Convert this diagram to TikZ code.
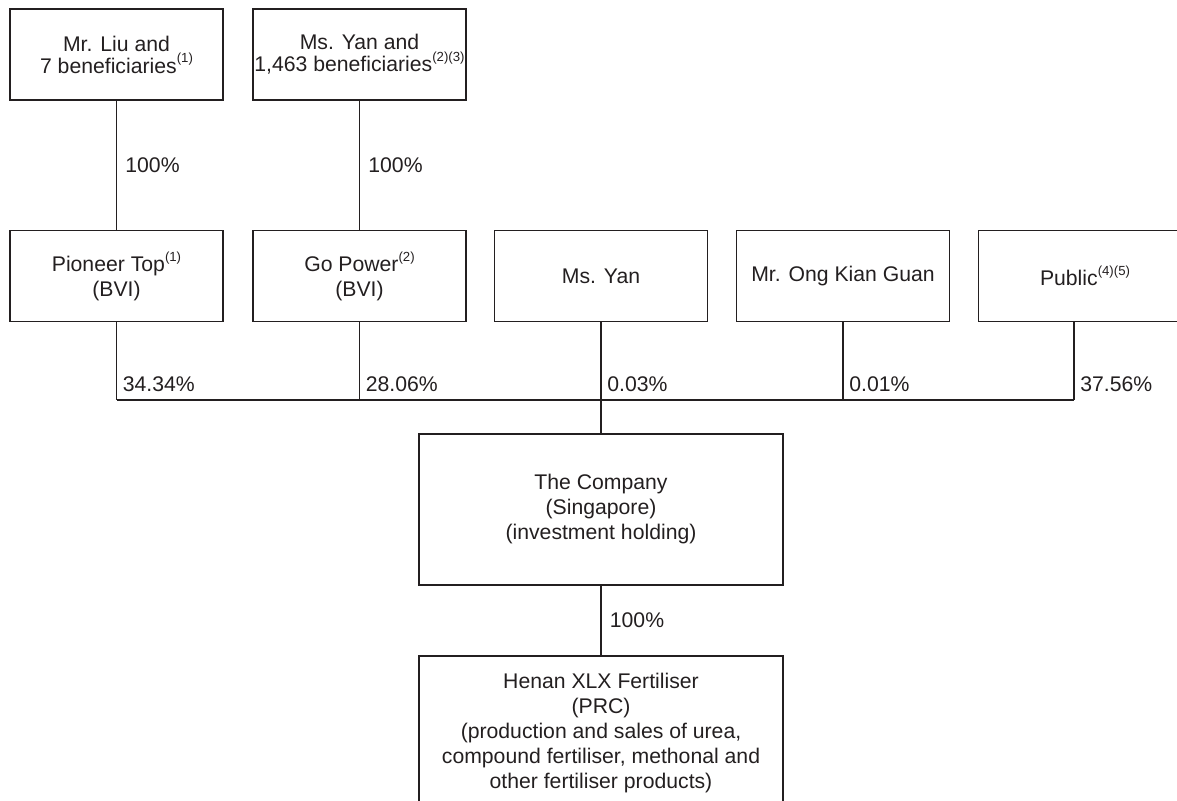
\documentclass[tikz,border=0pt]{standalone}
\usepackage{fontspec}
\setmainfont{Liberation Sans}

\definecolor{inkline}{HTML}{231F20}
\newcommand{\noteref}[1]{\raisebox{0.9ex}{\fontsize{6.6}{7}\selectfont(#1)}}

\tikzset{
    entity/.style={draw=inkline, line width=0.9pt, minimum width=106.5pt, minimum height=45.5pt,
        inner sep=0pt, align=center, text=inkline, font=\fontsize{10.6}{12.5}\selectfont},
    link/.style={draw=inkline, line width=0.9pt},
    pct/.style={inner sep=0pt, text=inkline, font=\fontsize{10.6}{12.5}\selectfont}
}

\begin{document}
\begin{tikzpicture}[x=0.5pt,y=-0.5pt]

    % page frame
    \useasboundingbox (0,0) rectangle (1177,801);

    % ultimate holders
    \node[entity, font=\fontsize{10.6}{11}\selectfont] (liu) at (116.5,54.5) {Mr. Liu and\\7 beneficiaries\noteref{1}};
    \node[entity, font=\fontsize{10.6}{11}\selectfont] (yanben) at (359.5,54.5) {Ms. Yan and\\1,463 beneficiaries\noteref{2}\noteref{3}};

    % shareholders
    \node[entity] (pioneer) at (116.5,276) {Pioneer Top\noteref{1}\\(BVI)};
    \node[entity] (gopower) at (359.5,276) {Go Power\noteref{2}\\(BVI)};
    \node[entity] (msyan) at (601,276) {Ms. Yan};
    \node[entity] (ong) at (843,276) {Mr. Ong Kian Guan};
    \node[entity] (public) at (1085,276) {Public\noteref{4}\noteref{5}};

    % the company and its subsidiary
    \node[entity, minimum width=182pt, minimum height=75.5pt] (company) at (601,509.5)
        {The Company\\(Singapore)\\(investment holding)};
    \node[entity, minimum width=182pt, inner ysep=8.5pt, anchor=north] (henan) at (601,655)
        {Henan XLX Fertiliser\\(PRC)\\(production and sales of urea,\\compound fertiliser, methonal and\\other fertiliser products)};

    % 100% holdings
    \draw[link] (liu) -- node[pct, anchor=west, xshift=4pt] (own1) {100\%} (pioneer);
    \draw[link] (yanben) -- node[pct, anchor=west, xshift=4pt] (own2) {100\%} (gopower);
    \draw[link] (company) -- node[pct, anchor=west, xshift=4pt] (own3) {100\%} (henan);

    % bus line
    \coordinate (bus1) at (116.5,400);
    \coordinate (bus2) at (359.5,400);
    \coordinate (bus3) at (601,400);
    \coordinate (bus4) at (843,400);
    \coordinate (bus5) at (1074,400);

    \draw[link] (pioneer) -- (bus1);
    \draw[link] (gopower) -- (bus2);
    \draw[link] (ong) -- (bus4);
    \draw[link] (public.south -| bus5) -- (bus5);
    \draw[link] (bus1) -- (bus5);
    \draw[link] (msyan) -- (company);

    % percentages
    \foreach \c/\v in {bus1/34.34, bus2/28.06, bus3/0.03, bus4/0.01, bus5/37.56}
        \node[pct, anchor=base west, xshift=3pt, yshift=4pt] (p\c) at (\c) {\v\%};

\end{tikzpicture}
\end{document}
